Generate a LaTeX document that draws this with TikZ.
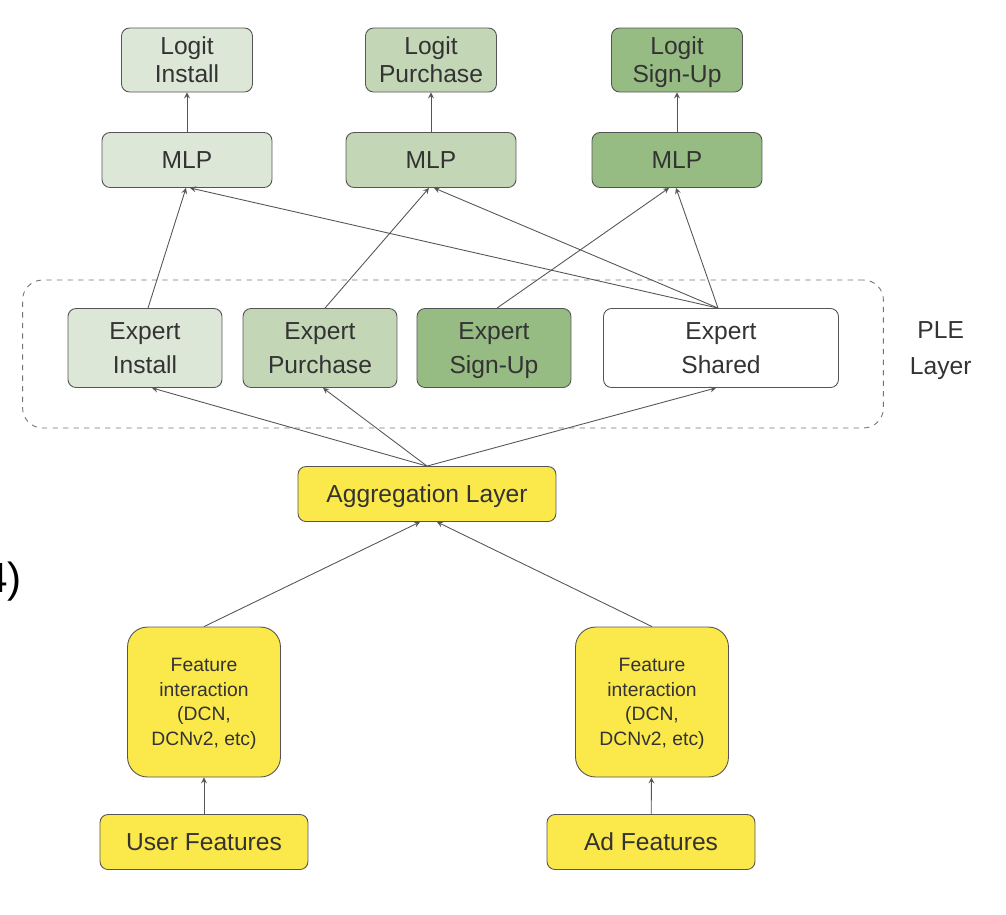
\documentclass[tikz,border=0pt]{standalone}
\usepackage{fontspec}
\setmainfont{Liberation Sans}
\usetikzlibrary{positioning}

\definecolor{tierone}{HTML}{DDE7D7}
\definecolor{tiertwo}{HTML}{C3D7B7}
\definecolor{tierthree}{HTML}{96BB83}
\definecolor{featyellow}{HTML}{FBE84A}
\definecolor{edgegray}{HTML}{555555}

\begin{document}
\begin{tikzpicture}[
        % one unit is one pixel of the screenshot
        x=0.02cm, y=-0.02cm,
        >=stealth, line width=0.5pt,
        pleblock/.style={
            draw=edgegray,
            rectangle,
            rounded corners=0.16cm,
            text=black!80,
            align=center,
            inner sep=2pt,
            text depth=0pt,
            font=\fontsize{14}{16}\selectfont
        },
        logitbox/.style={pleblock, minimum width=2.62cm, minimum height=1.28cm},
        mlpbox/.style={pleblock, minimum width=3.4cm, minimum height=1.1cm},
        expertbox/.style={pleblock, minimum width=3.08cm, minimum height=1.58cm,
            font=\fontsize{14}{19}\selectfont},
        featbox/.style={pleblock, fill=featyellow, minimum height=1.1cm},
        interbox/.style={pleblock, fill=featyellow, rounded corners=0.4cm,
            minimum width=3.06cm, minimum height=3cm,
            font=\fontsize{11}{14}\selectfont},
        link/.style={draw=edgegray, ->}
        ]

        \useasboundingbox (0,0) rectangle (1006,914);

        % task towers
        \node [logitbox, fill=tierone] (logit_install) at (187,60) {Logit\\Install};
        \node [logitbox, fill=tiertwo] (logit_purchase) at (431,60) {Logit\\Purchase};
        \node [logitbox, fill=tierthree] (logit_signup) at (677,60) {Logit\\Sign-Up};

        \node [mlpbox, fill=tierone] (mlp_install) at (187,160) {MLP};
        \node [mlpbox, fill=tiertwo] (mlp_purchase) at (431,160) {MLP};
        \node [mlpbox, fill=tierthree] (mlp_signup) at (677,160) {MLP};

        \draw [link] (mlp_install) -- (logit_install);
        \draw [link] (mlp_purchase) -- (logit_purchase);
        \draw [link] (mlp_signup) -- (logit_signup);

        % PLE layer
        \node [draw=black!55, dashed, rounded corners=0.4cm, minimum width=17.22cm,
            minimum height=2.96cm] (ple_frame) at (453,354) {};
        \node [pleblock, draw=none, anchor=west, font=\fontsize{14}{20}\selectfont]
            (ple_label) at (906,348) {PLE\\Layer};

        \node [expertbox, fill=tierone] (expert_install) at (145,348) {Expert\\Install};
        \node [expertbox, fill=tiertwo] (expert_purchase) at (320,348) {Expert\\Purchase};
        \node [expertbox, fill=tierthree] (expert_signup) at (494,348) {Expert\\Sign-Up};
        \node [expertbox, fill=white, minimum width=4.7cm] (expert_shared) at (721,348) {Expert\\Shared};

        \draw [link] ([xshift=0.06cm]expert_install.north) -- ([xshift=-0.02cm]mlp_install.south);
        \draw [link] ([xshift=0.1cm]expert_purchase.north) -- ([xshift=-0.04cm]mlp_purchase.south);
        \draw [link] ([xshift=0.06cm]expert_signup.north) -- ([xshift=-0.16cm]mlp_signup.south);
        \draw [link] ([xshift=-0.06cm]expert_shared.north) -- ([xshift=0.06cm]mlp_install.south);
        \draw [link] ([xshift=-0.06cm]expert_shared.north) -- ([xshift=0.06cm]mlp_purchase.south);
        \draw [link] ([xshift=-0.06cm]expert_shared.north) -- ([xshift=-0.02cm]mlp_signup.south);

        % shared bottom
        \node [featbox, minimum width=5.16cm] (agg_layer) at (427,494) {Aggregation Layer};

        \draw [link] (agg_layer.north) -- ([xshift=0.14cm]expert_install.south);
        \draw [link] (agg_layer.north) -- ([xshift=0.06cm]expert_purchase.south);
        \draw [link] (agg_layer.north) -- ([xshift=-0.1cm]expert_shared.south);

        \node [interbox] (inter_user) at (204,702) {Feature\\interaction\\(DCN,\\DCNv2, etc)};
        \node [interbox] (inter_ad) at (652,702) {Feature\\interaction\\(DCN,\\DCNv2, etc)};

        \draw [link] (inter_user.north) -- ([xshift=-0.14cm]agg_layer.south);
        \draw [link] (inter_ad.north) -- ([xshift=0.2cm]agg_layer.south);

        \node [featbox, minimum width=4.16cm] (user_feat) at (204,842) {User Features};
        \node [featbox, minimum width=4.16cm] (ad_feat) at (651,842) {Ad Features};

        \draw [link] (user_feat) -- (inter_user);
        \draw [link] (ad_feat) -- (inter_ad);

        % slide numbering, cut at the left edge
        \node [anchor=east, inner sep=0pt, font=\fontsize{24}{26}\selectfont] (slide_num) at (22,582) {(4)};
        \end{tikzpicture}
\end{document}
